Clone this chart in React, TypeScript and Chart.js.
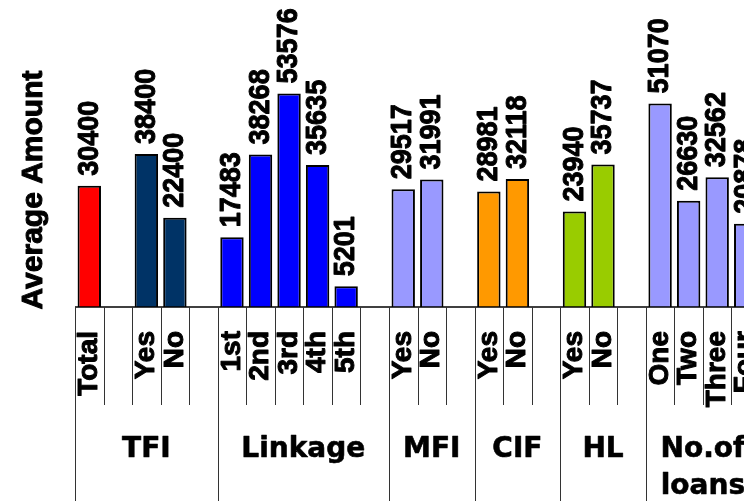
import React, { useEffect, useRef } from "react";
import { Chart, registerables } from "chart.js";

Chart.register(...registerables);

// Bottom-level categories (blank entries are spacer slots between groups)
const categories = [
  "Total", "", "Yes", "No", "",
  "1st", "2nd", "3rd", "4th", "5th", "",
  "Yes", "No", "",
  "Yes", "No", "",
  "Yes", "No", "",
  "One", "Two", "Three", "Four",
];

// Average amount per category
const averageAmounts: (number | null)[] = [
  30400, null, 38400, 22400, null,
  17483, 38268, 53576, 35635, 5201, null,
  29517, 31991, null,
  28981, 32118, null,
  23940, 35737, null,
  51070, 26630, 32562, 20878,
];

const barColors = [
  "#FF0000", "#FFFFFF", "#003366", "#003366", "#FFFFFF",
  "#0000FF", "#0000FF", "#0000FF", "#0000FF", "#0000FF", "#FFFFFF",
  "#9999FF", "#9999FF", "#FFFFFF",
  "#FF9900", "#FF9900", "#FFFFFF",
  "#99CC00", "#99CC00", "#FFFFFF",
  "#9999FF", "#9999FF", "#9999FF", "#9999FF",
];

// Upper-level groups: label lines and number of slots each spans
const groupNames = [["TFI"], ["Linkage"], ["MFI"], ["CIF"], ["HL"], ["No.of", "loans"]];
const groupSizes = [5, 6, 3, 3, 3, 4];

const yAxisTitle = "Average Amount";
const yMax = 75000;

// fill plus a thin outline of the same colour for a heavier weight
function heavyText(ctx: CanvasRenderingContext2D, text: string, x: number, y: number) {
  ctx.fillText(text, x, y);
  ctx.strokeText(text, x, y);
}

const multiLevelAxis = {
  id: "multiLevelAxis",
  afterDatasetsDraw(chart: any) {
    const ctx: CanvasRenderingContext2D = chart.ctx;
    const xs = chart.scales.x;
    const ys = chart.scales.y;
    const area = chart.chartArea;
    const base = ys.getPixelForValue(0);
    const slot = xs.getPixelForValue(1) - xs.getPixelForValue(0);
    const edge = (i: number) => xs.getPixelForValue(0) - slot / 2 + i * slot;

    ctx.save();
    ctx.fillStyle = "#000";
    ctx.lineJoin = "round";

    // value labels above bars
    const meta = chart.getDatasetMeta(0);
    meta.data.forEach((bar: any, i: number) => {
      const v = averageAmounts[i];
      if (v == null) return;
      ctx.save();
      ctx.translate(bar.x, bar.y - 10);
      ctx.rotate(-Math.PI / 2);
      ctx.scale(0.9, 1);
      ctx.font = "bold 30px 'Liberation Sans'";
      ctx.textAlign = "left";
      ctx.textBaseline = "middle";
      ctx.strokeStyle = "#000";
      ctx.lineWidth = 1;
      heavyText(ctx, String(v), 0, 0);
      ctx.restore();
    });

    // category axis line
    ctx.strokeStyle = "#000";
    ctx.lineWidth = 1.5;
    ctx.beginPath();
    ctx.moveTo(area.left, base);
    ctx.lineTo(chart.width, base);
    ctx.stroke();

    // tick dividers: short between categories, long between groups
    const groupEdges = new Set<number>([0]);
    let acc = 0;
    groupSizes.forEach((s) => {
      acc += s;
      groupEdges.add(acc);
    });
    ctx.strokeStyle = "#333";
    ctx.lineWidth = 1;
    for (let i = 0; i <= categories.length; i++) {
      const px = Math.round(edge(i)) + 0.5;
      ctx.beginPath();
      ctx.moveTo(px, base);
      ctx.lineTo(px, groupEdges.has(i) ? chart.height : base + 98);
      ctx.stroke();
    }

    ctx.strokeStyle = "#000";
    ctx.lineWidth = 1;

    // rotated category labels
    ctx.font = "bold 28px 'Liberation Sans'";
    categories.forEach((c, i) => {
      if (!c) return;
      ctx.save();
      ctx.translate(xs.getPixelForValue(i), base + 24);
      ctx.rotate(-Math.PI / 2);
      ctx.textAlign = "right";
      ctx.textBaseline = "middle";
      heavyText(ctx, c, 0, 0);
      ctx.restore();
    });

    // group labels
    ctx.font = "bold 28px 'DejaVu Sans'";
    ctx.textAlign = "center";
    ctx.textBaseline = "alphabetic";
    ctx.lineWidth = 0.6;
    let start = 0;
    groupNames.forEach((lines, g) => {
      const end = start + groupSizes[g];
      const cx = (edge(start) + edge(end)) / 2;
      lines.forEach((line, k) => {
        heavyText(ctx, line, cx, base + 150 + k * 37);
      });
      start = end;
    });

    // y-axis title
    ctx.save();
    ctx.translate(42, 190);
    ctx.rotate(-Math.PI / 2);
    ctx.font = "bold 30px 'Liberation Sans'";
    ctx.textAlign = "center";
    ctx.textBaseline = "alphabetic";
    ctx.lineWidth = 1;
    heavyText(ctx, yAxisTitle, 0, 0);
    ctx.restore();

    ctx.restore();
  },
};

export default function App() {
  const canvasRef = useRef<HTMLCanvasElement | null>(null);

  useEffect(() => {
    if (!canvasRef.current) return;
    const chart = new Chart(canvasRef.current, {
      type: "bar",
      data: {
        labels: categories,
        datasets: [
          {
            data: averageAmounts,
            backgroundColor: barColors,
            borderColor: "#000",
            borderWidth: 2,
            barPercentage: 0.82,
            categoryPercentage: 1,
          },
        ],
      },
      options: {
        responsive: false,
        animation: false,
        devicePixelRatio: 1,
        layout: { padding: { left: 75, right: 0, top: 8, bottom: 194 } },
        plugins: { legend: { display: false }, tooltip: { enabled: false } },
        scales: {
          x: { display: false },
          y: { display: false, min: 0, max: yMax },
        },
      },
      plugins: [multiLevelAxis],
    });
    return () => chart.destroy();
  }, []);

  return (
    <div
      style={{
        position: "fixed",
        left: 0,
        top: 0,
        width: 744,
        height: 501,
        overflow: "hidden",
        background: "#fff",
      }}
    >
      <canvas ref={canvasRef} width={760} height={501} style={{ display: "block" }} />
    </div>
  );
}
